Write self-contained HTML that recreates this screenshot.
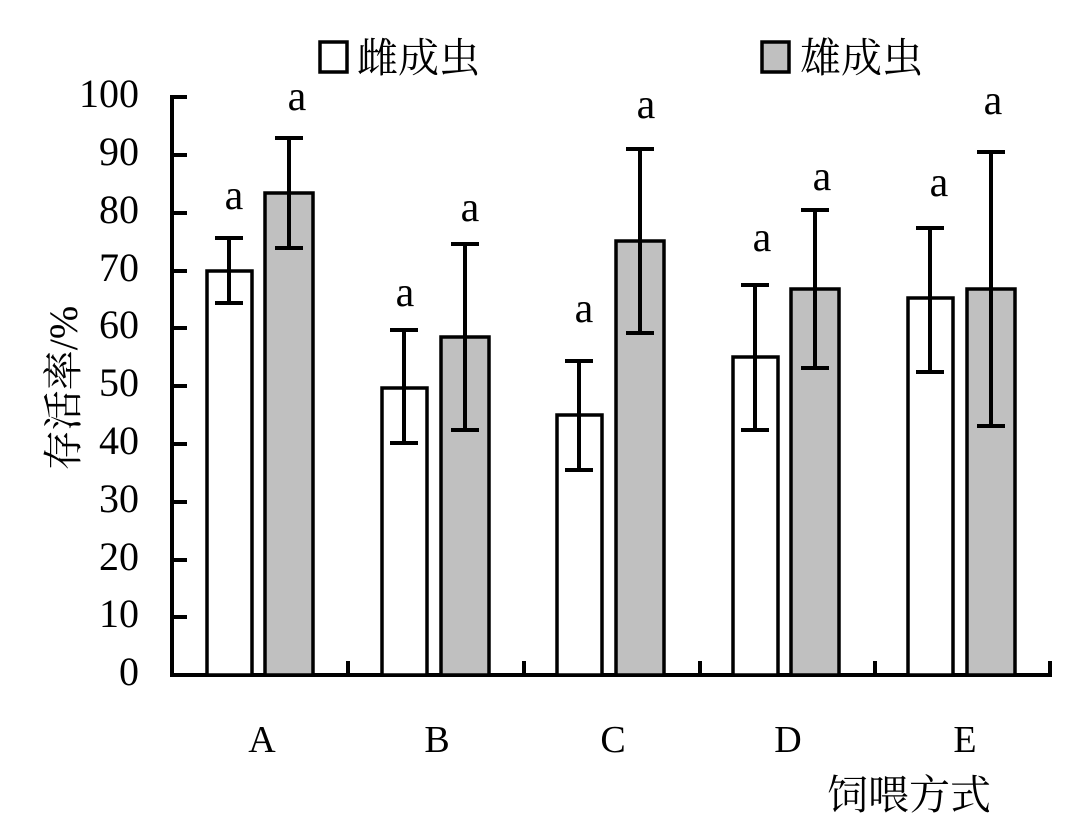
<!DOCTYPE html>
<html><head><meta charset="utf-8"><style>body{margin:0;background:#fff}</style></head><body>
<svg width="1082" height="831" xmlns="http://www.w3.org/2000/svg" font-family="Liberation Serif, Noto Serif CJK SC, serif">
<rect width="1082" height="831" fill="#fff"/>
<g stroke="#000" stroke-width="4" fill="none">
<line x1="172" y1="95" x2="172" y2="677"/>
<line x1="170" y1="675" x2="1052" y2="675"/>
<line x1="172" y1="97" x2="187" y2="97"/><line x1="172" y1="155" x2="187" y2="155"/><line x1="172" y1="213" x2="187" y2="213"/><line x1="172" y1="271" x2="187" y2="271"/><line x1="172" y1="328" x2="187" y2="328"/><line x1="172" y1="386" x2="187" y2="386"/><line x1="172" y1="444" x2="187" y2="444"/><line x1="172" y1="502" x2="187" y2="502"/><line x1="172" y1="560" x2="187" y2="560"/><line x1="172" y1="617" x2="187" y2="617"/>
<line x1="348" y1="661" x2="348" y2="675"/><line x1="524" y1="661" x2="524" y2="675"/><line x1="700" y1="661" x2="700" y2="675"/><line x1="875" y1="661" x2="875" y2="675"/><line x1="1050" y1="661" x2="1050" y2="675"/>
</g>
<g stroke="#000" stroke-width="3.5">
<rect x="207" y="271" width="45" height="404" fill="#fff"/>
<rect x="265" y="193" width="48" height="482" fill="#c0c0c0"/>
<rect x="382" y="388" width="45" height="287" fill="#fff"/>
<rect x="441" y="337" width="48" height="338" fill="#c0c0c0"/>
<rect x="557" y="415" width="45" height="260" fill="#fff"/>
<rect x="616" y="241" width="48" height="434" fill="#c0c0c0"/>
<rect x="733" y="357" width="45" height="318" fill="#fff"/>
<rect x="791" y="289" width="48" height="386" fill="#c0c0c0"/>
<rect x="908" y="298" width="45" height="377" fill="#fff"/>
<rect x="967" y="289" width="48" height="386" fill="#c0c0c0"/>
</g>
<g stroke="#000" stroke-width="4">
<path d="M229 238V303M215 238H243M215 303H243"/>
<path d="M289 138V248M275 138H303M275 248H303"/>
<path d="M404 330V443M390 330H418M390 443H418"/>
<path d="M465 244V430M451 244H479M451 430H479"/>
<path d="M579 361V470M565 361H593M565 470H593"/>
<path d="M640 149V333M626 149H654M626 333H654"/>
<path d="M755 285V430M741 285H769M741 430H769"/>
<path d="M815 210V368M801 210H829M801 368H829"/>
<path d="M930 228V372M916 228H944M916 372H944"/>
<path d="M991 152V426M977 152H1005M977 426H1005"/>
</g>
<g font-size="42" text-anchor="middle">
<text x="234" y="209">a</text><text x="297" y="110">a</text>
<text x="405" y="306">a</text><text x="470" y="221">a</text>
<text x="584" y="322">a</text><text x="646" y="118">a</text>
<text x="762" y="251">a</text><text x="822" y="190">a</text>
<text x="939" y="196">a</text><text x="993" y="114">a</text>
</g>
<g font-size="40" text-anchor="end">
<text x="139" y="107">100</text><text x="139" y="165">90</text><text x="139" y="223">80</text><text x="139" y="281">70</text><text x="139" y="338">60</text><text x="139" y="396">50</text><text x="139" y="454">40</text><text x="139" y="512">30</text><text x="139" y="570">20</text><text x="139" y="627">10</text><text x="139" y="685">0</text>
</g>
<g font-size="38" text-anchor="middle">
<text x="262" y="752">A</text><text x="437" y="752">B</text><text x="613" y="752">C</text><text x="788" y="752">D</text><text x="965" y="752">E</text>
</g>
<text x="909" y="809" font-size="41" text-anchor="middle">饲喂方式</text>
<text transform="translate(77,388) rotate(-90)" font-size="40" text-anchor="middle">存活率/%</text>
<rect x="320" y="42" width="27" height="30" fill="#fff" stroke="#000" stroke-width="3.5"/>
<text x="357" y="72" font-size="41">雌成虫</text>
<rect x="762" y="42" width="27" height="30" fill="#c0c0c0" stroke="#000" stroke-width="3.5"/>
<text x="800" y="72" font-size="41">雄成虫</text>
</svg>
</body></html>
